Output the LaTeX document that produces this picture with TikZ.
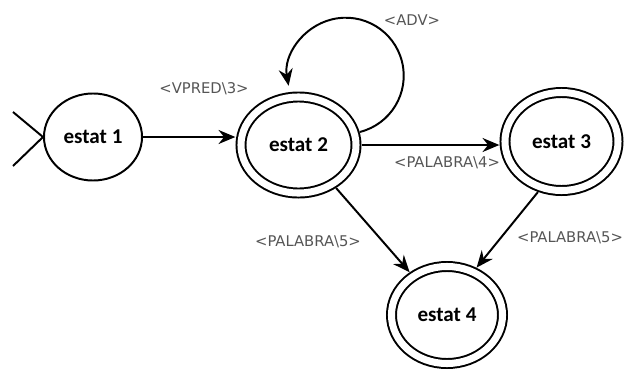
\documentclass[tikz,border=0pt]{standalone}
\usepackage{fontspec}
\setmainfont{Carlito}
\newfontfamily\labelfont{DejaVu Sans}
\usetikzlibrary{arrows.meta,shapes.geometric}
\definecolor{labelgray}{HTML}{555555}
\tikzset{
	state/.style={ellipse, draw, line width=1.4pt, inner sep=0pt, font=\fontsize{15}{17}\selectfont\bfseries},
	final/.style={state, double, double distance=5pt, outer sep=4pt},
	trans/.style={line width=1.4pt, -{Stealth[length=12pt, width=10pt, inset=4pt]}},
	tlabel/.style={text=labelgray, font=\labelfont\fontsize{10.5}{12}\selectfont, inner sep=0pt}
}
\begin{document}
\begin{tikzpicture}[x=0.025cm, y=-0.025cm]
	\useasboundingbox (0,0) rectangle (632,369);
	\node[state, minimum width=2.45cm, minimum height=2.175cm](e1) at (93,137){estat 1};
	\node[final, minimum width=2.875cm, minimum height=2.4cm](e2) at (298.5,145){estat 2};
	\node[final, minimum width=2.825cm, minimum height=2.45cm](e3) at (561.5,141.5){estat 3};
	\node[final, minimum width=2.775cm, minimum height=2.425cm](e4) at (447,315){estat 4};
	% initial marker
	\coordinate(initTop) at (13,112);
	\coordinate(initBtm) at (13,166);
	\draw[line width=1.4pt](initTop) -- (e1.west) -- (initBtm);
	% transitions
	\draw[trans](e1.east) -- (e1.east -| e2.west);
	\draw[trans](e2.12) arc[start angle=76, end angle=-190, radius=58];
	\draw[trans](e2.east) -- (e2.east -| e3.west);
	\draw[trans](e2) -- (e4);
	\draw[trans](e3.245) -- (e4.58);
	% labels
	\node[tlabel](lVpred) at (204,89){<VPRED\textbackslash 3>};
	\node[tlabel](lAdv) at (412,20){<ADV>};
	\node[tlabel](lPal4) at (447,163){<PALABRA\textbackslash 4>};
	\node[tlabel](lPal5a) at (308,242){<PALABRA\textbackslash 5>};
	\node[tlabel](lPal5b) at (570,238){<PALABRA\textbackslash 5>};
\end{tikzpicture}
\end{document}
